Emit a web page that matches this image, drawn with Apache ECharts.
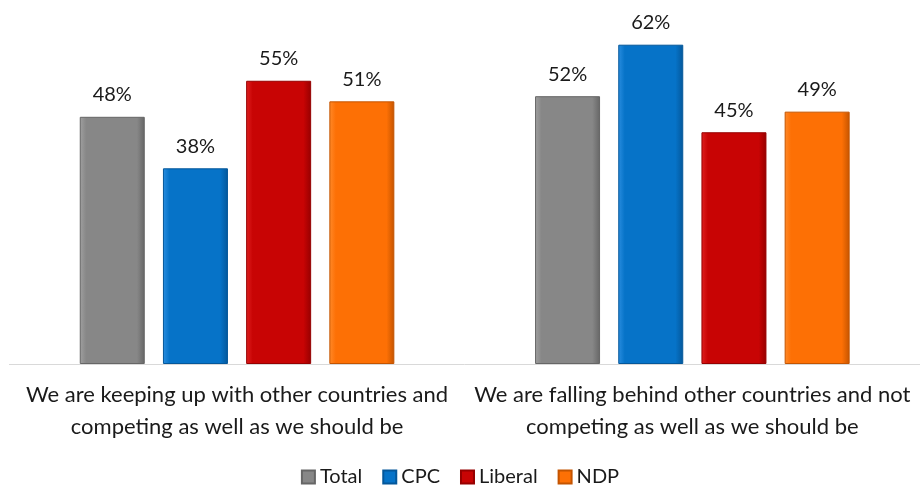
<!DOCTYPE html>
<html>
<head>
<meta charset="utf-8">
<script src="https://cdn.jsdelivr.net/npm/echarts@6/dist/echarts.min.js"></script>
<style>html,body{margin:0;padding:0;background:#fff}#c{width:920px;height:487px}</style>
</head>
<body>
<div id="c"></div>
<script>
const categories = [
  "We are keeping up with other countries and\ncompeting as well as we should be",
  "We are falling behind other countries and not\ncompeting as well as we should be"
];
const seriesNames = ["Total", "CPC", "Liberal", "NDP"];
const totalValues = [48, 52];
const cpcValues = [38, 62];
const liberalValues = [55, 45];
const ndpValues = [51, 49];

const colors = {
  Total: ["#a0a0a0", "#878787", "#666666"],
  CPC: ["#2a8ee0", "#0673c8", "#04579a"],
  Liberal: ["#e02020", "#c80404", "#960000"],
  NDP: ["#ff8a2a", "#fd7005", "#c45400"]
};
const FONT = "Lato, 'Open Sans', sans-serif";

function mk(name, data) {
  const c = colors[name];
  return {
    name: name,
    type: 'bar',
    data: data,
    barWidth: 65,
    barGap: '28%',
    itemStyle: {
      color: new echarts.graphic.LinearGradient(0, 0, 1, 0, [
        {offset: 0, color: c[0]},
        {offset: 0.1, color: c[1]},
        {offset: 0.88, color: c[1]},
        {offset: 1, color: c[2]}
      ]),
      borderColor: c[2],
      borderWidth: 1
    },
    label: {
      show: true,
      position: 'top',
      distance: 12,
      formatter: '{c}%',
      color: '#1a1a1a',
      fontSize: 20,
      fontFamily: FONT
    }
  };
}

const chart = echarts.init(document.getElementById('c'));
chart.setOption({
  animation: false,
  color: seriesNames.map(n => colors[n][1]),
  grid: {left: 9.4, top: 3.5, width: 917, bottom: 123, containLabel: false},
  legend: {
    data: seriesNames,
    top: 462,
    left: 'center',
    itemWidth: 13,
    itemHeight: 13,
    itemGap: 20,
    icon: 'rect',
    textStyle: {fontSize: 20, color: '#1a1a1a', fontFamily: FONT}
  },
  xAxis: {
    type: 'category',
    data: categories,
    axisLine: {lineStyle: {color: '#d9d9d9', width: 1}},
    axisTick: {show: false},
    axisLabel: {
      interval: 0,
      fontSize: 22,
      lineHeight: 32,
      color: '#1a1a1a',
      margin: 15,
      fontFamily: FONT
    }
  },
  yAxis: {
    type: 'value',
    min: 0,
    max: 70,
    show: false,
    splitLine: {show: false}
  },
  series: [
    mk('Total', totalValues),
    mk('CPC', cpcValues),
    mk('Liberal', liberalValues),
    mk('NDP', ndpValues)
  ]
});
</script>
</body>
</html>
